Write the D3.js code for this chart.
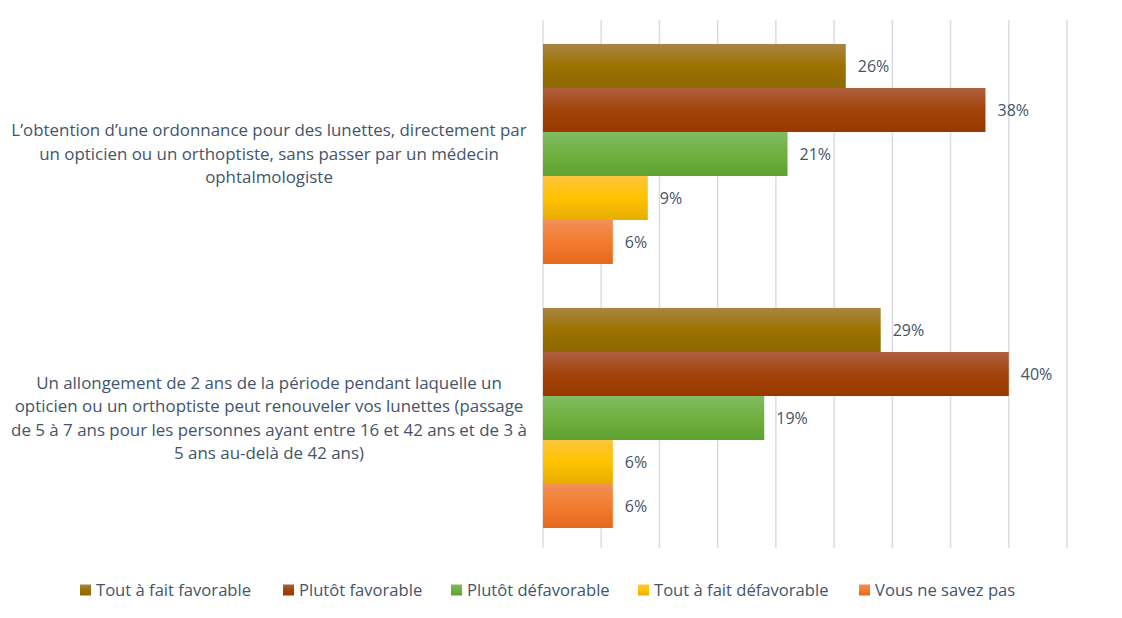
<!DOCTYPE html>
<html><head><meta charset="utf-8">
<script src="https://cdn.jsdelivr.net/npm/d3@7"></script>
<style>body{margin:0;background:#fff}svg{display:block}</style>
</head><body>
<svg id="c" width="1122" height="618"></svg>
<script>
const categories = [
  ["L’obtention d’une ordonnance pour des lunettes, directement par",
   "un opticien ou un orthoptiste, sans passer par un médecin",
   "ophtalmologiste"],
  ["Un allongement de 2 ans de la période pendant laquelle un",
   "opticien ou un orthoptiste peut renouveler vos lunettes (passage",
   "de 5 à 7 ans pour les personnes ayant entre 16 et 42 ans et de 3 à",
   "5 ans au-delà de 42 ans)"]
];
const seriesNames = ["Tout à fait favorable","Plutôt favorable","Plutôt défavorable","Tout à fait défavorable","Vous ne savez pas"];
const values = [
  [26, 38, 21, 9, 6],
  [29, 40, 19, 6, 6]
];
const ticks = [0,5,10,15,20,25,30,35,40,45];
const colors = [
  ["#A98442","#9C7300","#8C6800"],
  ["#AE603F","#A2440A","#983800"],
  ["#82BB62","#70B040","#5EA232"],
  ["#FFC53D","#FFC300","#E6AD00"],
  ["#F38E55","#F27C2D","#E4691C"]
];
const textColor = "#44546A";
const font = "'Open Sans', 'Noto Sans', sans-serif";

const svg = d3.select("#c");
const defs = svg.append("defs");
colors.forEach((c,i)=>{
  const g = defs.append("linearGradient").attr("id","g"+i).attr("x1",0).attr("x2",0).attr("y1",0).attr("y2",1);
  g.append("stop").attr("offset","0%").attr("stop-color",c[0]);
  g.append("stop").attr("offset","50%").attr("stop-color",c[1]);
  g.append("stop").attr("offset","100%").attr("stop-color",c[2]);
});

const x = d3.scaleLinear().domain([0,45]).range([543,1067]);
const y0 = d3.scaleBand().domain(d3.range(categories.length)).range([21,551]).paddingInner(0.1667).paddingOuter(0.087);
const y1 = d3.scaleBand().domain(d3.range(seriesNames.length)).range([0,y0.bandwidth()]);

// gridlines
svg.append("g").selectAll("line").data(ticks).join("line")
  .attr("x1",d=>x(d)).attr("x2",d=>x(d)).attr("y1",20).attr("y2",548)
  .attr("stroke","#D9DDE3").attr("stroke-width",1.5);

// bars
const grp = svg.append("g").selectAll("g").data(values).join("g")
  .attr("transform",(d,i)=>`translate(0,${y0(i)})`);
grp.selectAll("rect").data(d=>d).join("rect")
  .attr("x",x(0)).attr("y",(d,j)=>y1(j)).attr("width",d=>x(d)-x(0)).attr("height",y1.bandwidth())
  .attr("fill",(d,j)=>`url(#g${j})`);
grp.selectAll("text").data(d=>d).join("text")
  .attr("x",d=>x(d)+12).attr("y",(d,j)=>y1(j)+y1.bandwidth()/2).attr("dy","0.35em")
  .attr("font-family",font).attr("font-size",16).attr("fill",textColor).text(d=>d+"%");

// category labels
categories.forEach((lines,i)=>{
  const cy = y0(i)+y0.bandwidth()/2;
  const lh = 23.5;
  const t = svg.append("text").attr("text-anchor","middle").attr("font-family",font).attr("font-size",16.9).attr("fill",textColor);
  lines.forEach((l,k)=>{
    t.append("tspan").attr("x",269).attr("y",cy + (k-(lines.length-1)/2)*lh).attr("dy","0.35em").text(l);
  });
});

// legend
const legX = [80,283,451,638,859];
const leg = svg.append("g").selectAll("g").data(seriesNames).join("g")
  .attr("transform",(d,i)=>`translate(${legX[i]},590)`);
leg.append("rect").attr("x",0).attr("y",-5.5).attr("width",11).attr("height",11).attr("fill",(d,i)=>`url(#g${i})`);
leg.append("text").attr("x",16).attr("y",0).attr("dy","0.35em").attr("font-family",font).attr("font-size",16.6).attr("fill",textColor).text(d=>d);
</script>
</body></html>
